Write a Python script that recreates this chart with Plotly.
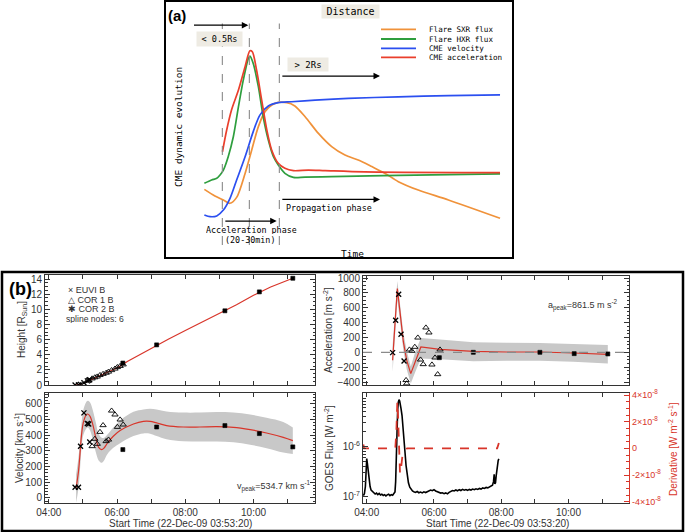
import plotly.graph_objects as go

W, H = 685, 532
def xp(px): return px / W
def yp(py): return 1 - py / H

MONO = "DejaVu Sans Mono"
SANS = "Liberation Sans, Arial, sans-serif"
INK = "#333333"
RED = "#d8352a"
BAND = "#c8c8c8"
C_SXR, C_HXR, C_VEL, C_ACC = "#f0923a", "#2e9e3e", "#2b4ff0", "#ea3f2c"

# ---------------- Panel (a): schematic curves (arbitrary units) ----------------
sxr_t = [2.0, 5.5, 8.3, 10.5, 12.7, 15.5, 17.7, 19.9, 22.1, 25.4, 29.3, 32.0, 35.4, 39.8, 44.2, 48.6, 53.0, 57.5, 61.9, 66.3, 72.9, 82.9, 100]
sxr_v = [24.0, 20.4, 18.2, 16.4, 19.6, 32.7, 45.5, 58.2, 66.4, 70.9, 71.3, 69.5, 63.6, 54.5, 47.3, 42.7, 40.0, 36.4, 32.7, 28.2, 23.6, 18.2, 8.2]
hxr_t = [2.0, 4.4, 6.1, 7.2, 8.3, 9.9, 11.6, 13.3, 14.9, 16.6, 17.1, 18.2, 19.9, 21.5, 23.2, 24.9, 26.5, 28.7, 31.5, 35.4, 44.2, 66.3, 100]
hxr_v = [27.3, 29.1, 30.0, 31.8, 34.5, 41.8, 52.7, 69.1, 83.6, 95.5, 96.7, 92.7, 80.0, 63.6, 50.9, 41.8, 37.3, 32.7, 30.5, 30.7, 30.9, 31.6, 32.4]
vel_t = [2.0, 3.9, 6.1, 8.3, 10.5, 12.7, 15.5, 18.2, 20.4, 23.2, 26.5, 30.9, 38.7, 49.7, 66.3, 82.9, 100]
vel_v = [10.0, 9.1, 9.5, 12.7, 19.1, 29.1, 41.8, 55.5, 64.5, 69.5, 71.3, 71.8, 72.7, 73.6, 74.5, 75.1, 75.5]
acc_t = [8.0, 9.4, 11.0, 13.3, 15.5, 17.1, 17.9, 19.3, 21.0, 22.7, 24.3, 26.5, 28.7, 31.5, 36.5, 42.0, 55.2, 100]
acc_v = [44.5, 56.4, 67.3, 78.2, 90.9, 99.6, 99.1, 89.1, 72.7, 56.4, 45.5, 38.2, 35.5, 34.2, 34.5, 34.2, 33.5, 33.1]
phase_marks = [7.96, 16.91, 26.85]
legend_a = [("Flare SXR flux", C_SXR), ("Flare HXR flux", C_HXR),
            ("CME velocity", C_VEL), ("CME acceleration", C_ACC)]

# ---------------- Panel (b): measurements (time in decimal hours UT) ----------------
# Height [R_sun]
h_euvi_t = [4.77, 4.87, 4.93, 5.03, 5.13, 5.17, 5.20]
h_euvi = [0.0, 0.02, 0.08, 0.3, 0.55, 0.62, 0.7]
h_cor1_t = [5.27, 5.35, 5.42, 5.50, 5.59, 5.68, 5.75, 5.84, 5.94, 6.01, 6.09, 6.18]
h_cor1 = [0.85, 1.0, 1.1, 1.3, 1.45, 1.6, 1.75, 1.95, 2.15, 2.35, 2.5, 2.7]
h_cor2_t = [6.17, 7.16, 9.16, 10.17, 11.15]
h_cor2 = [2.9, 5.3, 9.8, 12.3, 14.1]
h_fit_t = [4.77, 4.87, 4.95, 5.05, 5.15, 5.30, 5.50, 5.70, 5.90, 6.10, 6.30, 6.60, 7.00, 7.50, 8.00, 8.50, 9.00, 9.50, 10.00, 10.50, 11.15]
h_fit = [0.0, 0.02, 0.1, 0.3, 0.52, 0.85, 1.25, 1.65, 2.05, 2.5, 3.1, 3.85, 4.9, 6.05, 7.2, 8.3, 9.4, 10.6, 11.85, 12.95, 14.1]

# Velocity [km/s]
v_euvi_t = [4.77, 4.87, 4.93, 5.03, 5.13, 5.17, 5.20]
v_euvi = [68, 68, 330, 543, 475, 472, 357]
v_cor1_t = [5.27, 5.35, 5.42, 5.50, 5.59, 5.68, 5.75, 5.84, 5.94, 6.01, 6.09, 6.18]
v_cor1 = [330, 377, 345, 421, 464, 362, 372, 557, 532, 453, 500, 468]
v_cor2_t = [6.17, 7.16, 9.16, 10.17, 11.15]
v_cor2 = [309, 453, 462, 411, 326]
v_fit_t = [4.80, 4.87, 4.92, 4.96, 5.01, 5.09, 5.14, 5.21, 5.29, 5.38, 5.46, 5.55, 5.62, 5.72, 5.89, 6.09, 6.48, 6.77, 6.97, 7.16, 7.45, 7.94, 8.43, 8.92, 9.41, 9.90, 10.38, 10.87, 11.15]
v_fit = [64, 170, 298, 404, 479, 528, 536, 521, 468, 383, 323, 309, 319, 351, 394, 430, 472, 489, 489, 479, 462, 453, 453, 455, 451, 436, 415, 387, 366]
v_up = [150, 260, 380, 480, 560, 610, 620, 610, 560, 480, 410, 385, 385, 405, 450, 495, 550, 565, 570, 565, 552, 545, 545, 548, 545, 532, 512, 485, 450]
v_lo = [-30, 60, 200, 320, 400, 440, 450, 430, 370, 290, 240, 225, 240, 280, 320, 350, 395, 412, 410, 395, 375, 362, 360, 360, 355, 340, 318, 290, 280]

# Acceleration [m/s^2]
a_euvi_t = [4.77, 4.86, 4.95, 5.02, 5.11]
a_euvi = [-4, 431, 781, 242, -117]
a_cor1_t = [5.17, 5.19, 5.27, 5.34, 5.43, 5.52, 5.60, 5.68, 5.76, 5.85, 5.94, 6.03, 6.11, 6.18]
a_cor1 = [-375, -420, 36, 18, 72, 197, -99, -161, 332, 265, -166, -72, -296, 36]
a_cor2_t = [6.16, 7.17, 9.15, 10.17, 11.17]
a_cor2 = [-72, 0, 0, -18, -22]
a_fit_t = [4.77, 4.91, 4.99, 5.09, 5.19, 5.31, 5.44, 5.61, 6.18, 7.17, 8.16, 9.15, 10.14, 11.17]
a_fit = [-108, 857, 543, 139, -108, -287, -130, 72, 40, 13, 4, 4, -9, -27]
a_up = [94, 960, 650, 260, 20, -190, 0, 193, 172, 135, 128, 125, 112, 100]
a_lo = [-265, 700, 420, 20, -230, -420, -270, -85, -95, -120, -115, -115, -128, -150]

# GOES flux [W m^-2]
goes_t = [3.90, 3.93, 3.96, 3.98, 4.00, 4.02, 4.04, 4.07, 4.10, 4.13, 4.17, 4.21, 4.25, 4.29, 4.33, 4.37, 4.41, 4.45,
          4.49, 4.53, 4.57, 4.61, 4.65, 4.69, 4.73, 4.77, 4.81, 4.84, 4.86, 4.88, 4.90, 4.92, 4.94, 4.96, 4.98, 5.00,
          5.02, 5.05, 5.08, 5.11, 5.14, 5.17, 5.20, 5.24, 5.28, 5.32, 5.36, 5.40, 5.45, 5.50, 5.55, 5.60, 5.65, 5.70,
          5.75, 5.80, 5.85, 5.90, 5.95, 6.00, 6.05, 6.10, 6.15, 6.20, 6.25, 6.30, 6.35, 6.40, 6.45, 6.50, 6.55, 6.60,
          6.65, 6.70, 6.75, 6.80, 6.85, 6.90, 6.95, 7.00, 7.05, 7.10, 7.15, 7.20, 7.25, 7.30, 7.35, 7.40, 7.45, 7.50,
          7.55, 7.60, 7.65, 7.70, 7.74, 7.77, 7.79, 7.81, 7.83, 7.85, 7.87, 7.89, 7.91, 7.93]
goes_flux = [1.05e-7, 1.15e-7, 1.6e-7, 3.5e-7, 5.8e-7, 4.6e-7, 3.2e-7, 2.1e-7, 1.6e-7, 1.35e-7, 1.25e-7, 1.2e-7,
             1.13e-7, 1.18e-7, 1.1e-7, 1.16e-7, 1.08e-7, 1.12e-7, 1.06e-7, 1.1e-7, 1.04e-7, 1.09e-7, 1.12e-7, 1.05e-7,
             1.1e-7, 1.07e-7, 1.14e-7, 1.25e-7, 2.0e-7, 8.0e-7, 2.5e-6, 5.5e-6, 7.8e-6, 8.7e-6, 8.2e-6, 7.2e-6,
             5.8e-6, 4.2e-6, 2.6e-6, 1.4e-6, 7.5e-7, 4.2e-7, 2.7e-7, 1.9e-7, 1.55e-7, 1.4e-7, 1.3e-7, 1.26e-7,
             1.22e-7, 1.27e-7, 1.2e-7, 1.24e-7, 1.19e-7, 1.25e-7, 1.21e-7, 1.26e-7, 1.3e-7, 1.36e-7, 1.32e-7, 1.38e-7,
             1.3e-7, 1.27e-7, 1.22e-7, 1.18e-7, 1.2e-7, 1.15e-7, 1.19e-7, 1.14e-7, 1.22e-7, 1.28e-7, 1.33e-7, 1.3e-7,
             1.36e-7, 1.31e-7, 1.38e-7, 1.33e-7, 1.4e-7, 1.35e-7, 1.39e-7, 1.34e-7, 1.4e-7, 1.36e-7, 1.42e-7, 1.38e-7,
             1.44e-7, 1.4e-7, 1.46e-7, 1.42e-7, 1.5e-7, 1.46e-7, 1.53e-7, 1.5e-7, 1.58e-7, 1.62e-7, 1.7e-7, 2.0e-7,
             2.8e-7, 1.8e-7, 1.9e-7, 2.6e-7, 3.8e-7, 4.8e-7, 5.3e-7, 5.7e-7]
deriv_t = [3.90, 3.92, 3.95, 4.85, 4.88, 4.91, 4.93, 4.96, 4.99, 5.02, 5.06, 5.12, 5.20, 7.88, 7.91, 7.93]
deriv = [3e-9, 0, 0, 0, 1.2e-8, 3.5e-8, 2.5e-8, 0, -1.9e-8, -1.5e-8, -6e-9, -2e-9, 0, 0, 2e-9, 4e-9]

T_RANGE = [3.889, 11.8]

fig = go.Figure()

# ---- panel (a) traces
for tt, vv, col in [(sxr_t, sxr_v, C_SXR), (hxr_t, hxr_v, C_HXR), (vel_t, vel_v, C_VEL), (acc_t, acc_v, C_ACC)]:
    fig.add_trace(go.Scatter(x=tt, y=vv, mode="lines", line=dict(color=col, width=1.7, shape="spline", smoothing=0.8),
                             xaxis="x", yaxis="y", hoverinfo="skip"))

def markers(t, v, xa, ya, kind):
    sym = {"euvi": ("x-thin-open", 5, 1.3), "cor1": ("triangle-up-open", 5.5, 0.9), "cor2": ("square", 4, 0.6)}[kind]
    return go.Scatter(x=t, y=v, mode="markers", xaxis=xa, yaxis=ya,
                      marker=dict(symbol=sym[0], size=sym[1], color="black", line=dict(color="black", width=sym[2])))

# ---- height
fig.add_trace(go.Scatter(x=h_fit_t, y=h_fit, mode="lines", line=dict(color=RED, width=1.2), xaxis="x2", yaxis="y2"))
fig.add_trace(markers(h_euvi_t, h_euvi, "x2", "y2", "euvi"))
fig.add_trace(markers(h_cor1_t, h_cor1, "x2", "y2", "cor1"))
fig.add_trace(markers(h_cor2_t, h_cor2, "x2", "y2", "cor2"))

# ---- velocity
fig.add_trace(go.Scatter(x=v_fit_t, y=v_up, mode="lines", line=dict(width=0, shape="spline"), xaxis="x3", yaxis="y3"))
fig.add_trace(go.Scatter(x=v_fit_t, y=v_lo, mode="lines", line=dict(width=0, shape="spline"), fill="tonexty",
                         fillcolor=BAND, xaxis="x3", yaxis="y3"))
fig.add_trace(go.Scatter(x=v_fit_t, y=v_fit, mode="lines", line=dict(color=RED, width=1.2, shape="spline"), xaxis="x3", yaxis="y3"))
fig.add_trace(markers(v_euvi_t, v_euvi, "x3", "y3", "euvi"))
fig.add_trace(markers(v_cor1_t, v_cor1, "x3", "y3", "cor1"))
fig.add_trace(markers(v_cor2_t, v_cor2, "x3", "y3", "cor2"))

# ---- acceleration
fig.add_trace(go.Scatter(x=a_fit_t, y=a_up, mode="lines", line=dict(width=0), xaxis="x4", yaxis="y4"))
fig.add_trace(go.Scatter(x=a_fit_t, y=a_lo, mode="lines", line=dict(width=0), fill="tonexty",
                         fillcolor=BAND, xaxis="x4", yaxis="y4"))
fig.add_trace(go.Scatter(x=a_fit_t, y=a_fit, mode="lines", line=dict(color=RED, width=1.2), xaxis="x4", yaxis="y4"))
fig.add_trace(markers(a_euvi_t, a_euvi, "x4", "y4", "euvi"))
fig.add_trace(markers(a_cor1_t, a_cor1, "x4", "y4", "cor1"))
fig.add_trace(markers(a_cor2_t, a_cor2, "x4", "y4", "cor2"))

# ---- GOES
fig.add_trace(go.Scatter(x=goes_t, y=goes_flux, mode="lines", line=dict(color="black", width=1.6), xaxis="x5", yaxis="y5"))
fig.add_trace(go.Scatter(x=deriv_t, y=deriv, mode="lines", line=dict(color=RED, width=1.8, dash="dash"), xaxis="x5", yaxis="y6"))

TF = dict(family=SANS, size=10, color=INK)

def time_axis(dom, anchor, labels):
    return dict(domain=dom, anchor=anchor, range=T_RANGE, tickmode="linear", tick0=4, dtick=2,
                showticklabels=labels, ticks="inside", ticklen=4, tickcolor=INK, automargin=False,
                minor=dict(ticks="inside", ticklen=4, dtick=1, tick0=4, tickcolor=INK),
                showline=True, linecolor=INK, linewidth=1, mirror="ticks", showgrid=False, zeroline=False, tickfont=TF,
                labelalias={4: "04:00", 6: "06:00", 8: "08:00", 10: "10:00"})

def val_axis(dom, anchor, rng, dtick, mdt):
    return dict(domain=dom, anchor=anchor, range=rng, dtick=dtick, tick0=0, ticks="inside", ticklen=5, tickcolor=INK,
                minor=dict(ticks="inside", ticklen=2.5, dtick=mdt, tickcolor=INK), showline=True, linecolor=INK,
                linewidth=1, mirror="ticks", showgrid=False, zeroline=False, tickfont=TF, automargin=False)

LX = [xp(45), xp(315)]
RX = [xp(363), xp(629)]
TOP_L = [yp(385), yp(275)]
TOP_R = [yp(385), yp(276)]
BOT = [yp(503), yp(393)]

minor_log = [k * 1e-7 for k in range(2, 10)] + [k * 1e-6 for k in range(2, 10)]

layout = dict(
    width=W, height=H, margin=dict(l=0, r=0, t=0, b=0, pad=0, autoexpand=False), autosize=False,
    paper_bgcolor="white", plot_bgcolor="white", showlegend=False,
    xaxis=dict(domain=[xp(190), xp(510)], range=[-2.76, 103.3], visible=False, anchor="y", automargin=False),
    yaxis=dict(domain=[yp(250), yp(20)], range=[-9.1, 116.4], visible=False, anchor="x", automargin=False),
    xaxis2=time_axis(LX, "y2", False),
    yaxis2=val_axis(TOP_L, "x2", [0, 14.53], 2, 0.5),
    xaxis3=time_axis(LX, "y3", True),
    yaxis3=val_axis(BOT, "x3", [-32, 670], 100, 20),
    xaxis4=time_axis(RX, "y4", False),
    yaxis4=val_axis(TOP_R, "x4", [-440, 1027], 200, 50),
    xaxis5=time_axis(RX, "y5", True),
    yaxis5=dict(domain=BOT, anchor="x5", type="log", range=[-7.126, -4.926], tickmode="array",
                tickvals=[1e-7, 1e-6], ticktext=["10<sup>-7</sup>", "10<sup>-6</sup>"], ticks="inside", ticklen=5,
                tickcolor=INK, minor=dict(ticks="inside", ticklen=2.5, tickmode="array", tickvals=minor_log, tickcolor=INK),
                showline=True, linecolor=INK, linewidth=1, mirror=False, showgrid=False, zeroline=False, tickfont=TF,
                automargin=False),
    yaxis6=dict(overlaying="y5", anchor="x5", side="right", range=[-4.1e-8, 4.15e-8], tickmode="array",
                tickvals=[-4e-8, -2e-8, 0, 2e-8, 4e-8],
                ticktext=["-4×10<sup>-8</sup>", "-2×10<sup>-8</sup>", "0", "2×10<sup>-8</sup>", "4×10<sup>-8</sup>"],
                ticks="inside", ticklen=5, tickcolor=RED, minor=dict(ticks="inside", ticklen=2.5, dtick=5e-9, tickcolor=RED),
                showline=True, linecolor=RED, linewidth=1.2, showgrid=False, zeroline=False, automargin=False,
                tickfont=dict(family=SANS, size=9, color=RED)),
)
fig.update_layout(**layout)

shapes = []
# panel frames
shapes.append(dict(type="rect", xref="paper", yref="paper", x0=xp(165), x1=xp(513), y0=yp(258), y1=yp(1),
                   line=dict(color="black", width=2)))
shapes.append(dict(type="rect", xref="paper", yref="paper", x0=xp(2), x1=xp(683), y0=yp(531), y1=yp(272),
                   line=dict(color="black", width=2.5)))
# panel (a) phase boundaries
for m in phase_marks:
    shapes.append(dict(type="line", xref="x", yref="y", x0=m, x1=m, y0=-6.4, y1=114.5,
                       line=dict(color="#8a8a8a", width=1.1, dash="dash")))
# panel (a) legend lines
LEG_Y = [29.3, 39.0, 48.3, 57.3]
for i, (name, col) in enumerate(legend_a):
    shapes.append(dict(type="line", xref="paper", yref="paper", x0=xp(381), x1=xp(416), y0=yp(LEG_Y[i]), y1=yp(LEG_Y[i]),
                       line=dict(color=col, width=1.8)))
# acceleration zero line
shapes.append(dict(type="line", xref="x4 domain", yref="y4", x0=0, x1=1, y0=0, y1=0,
                   line=dict(color="#8a8a8a", width=1.2, dash="dash")))
fig.update_layout(shapes=shapes)

ann = []
def text(px, py, s, size, family=MONO, color="black", xanchor="center", angle=0, bg=None, w=None, h=None):
    d = dict(x=xp(px), y=yp(py), xref="paper", yref="paper", text=s, showarrow=False, xanchor=xanchor,
             yanchor="middle", textangle=angle, font=dict(family=family, size=size, color=color))
    if bg:
        d.update(bgcolor=bg, borderpad=0)
    if w:
        d.update(width=w)
    if h:
        d.update(height=h)
    ann.append(d)

def arrow(x0, x1, y):
    ann.append(dict(x=x1, y=y, ax=x0, ay=y, xref="x", yref="y", axref="x", ayref="y", text=" ", showarrow=True,
                    arrowhead=2, arrowsize=1, arrowwidth=1.3, arrowcolor="black", standoff=0, startstandoff=0))

# panel (a) labels
text(177, 15.5, "<b>(a)</b>", 15, family="Liberation Sans, Arial")
text(350, 11.7, "Distance", 10, bg="#eeebe3", w=57, h=13)
text(219.2, 38.7, "&lt; 0.5Rs", 8.5, bg="#eeebe3", w=45, h=14)
text(308.3, 64, "&gt; 2Rs", 9, bg="#eeebe3", w=40, h=13)
text(284.3, 207.5, "Propagation phase", 8.4, xanchor="left")
text(251.7, 230, "Acceleration phase", 8.4, h=9)
text(250, 239.5, "(20-30min)", 8.4, h=9)
text(352, 253.5, "Time", 9.5)
text(178, 127, "CME dynamic evolution", 9.5, angle=-90)
for i, (name, col) in enumerate(legend_a):
    text(427, LEG_Y[i], name, 7.6, xanchor="left", h=9)
arrow(-2.43, 16.57, 113.6)
arrow(26.85, 60.22, 85.8)
arrow(26.85, 60.22, 18.5)
arrow(7.96, 25.97, 6.7)

# panel (b) labels
text(20, 289, "<b>(b)</b>", 18, family="Liberation Sans, Arial")
text(66, 289.5, "× EUVI B", 9, family=SANS, color=INK, xanchor="left", h=9)
text(66, 299, "△ COR 1 B", 9, family=SANS, color=INK, xanchor="left", h=9)
text(66, 308.5, "✱ COR 2 B", 9, family=SANS, color=INK, xanchor="left", h=9)
text(64, 318, "spline nodes: 6", 8.6, family=SANS, color=INK, xanchor="left", h=9)
text(313, 486, "v<sub>peak</sub>=534.7 km s<sup>-1</sup>", 9, family=SANS, color=INK, xanchor="right")
text(620, 305, "a<sub>peak</sub>=861.5 m s<sup>-2</sup>", 9, family=SANS, color=INK, xanchor="right")
text(22, 330, "Height [R<sub>Sun</sub>]", 10, family=SANS, color=INK, angle=-90)
text(19, 448, "Velocity [km s<sup>-1</sup>]", 10, family=SANS, color=INK, angle=-90)
text(328, 330, "Acceleration [m s<sup>-2</sup>]", 10, family=SANS, color=INK, angle=-90)
text(329, 448, "GOES Flux [W m<sup>-2</sup>]", 10, family=SANS, color=INK, angle=-90)
text(673, 449, "Derivative [W m<sup>-2</sup> s<sup>-1</sup>]", 10, family=SANS, color=RED, angle=-90)
text(180, 523, "Start Time (22-Dec-09 03:53:20)", 10, family=SANS, color=INK)
text(497, 523, "Start Time (22-Dec-09 03:53:20)", 10, family=SANS, color=INK)

fig.update_layout(annotations=ann)
fig.write_html("out.html", config={"displayModeBar": False},
               post_script="document.body.style.margin='0px';document.body.style.padding='0px';")
